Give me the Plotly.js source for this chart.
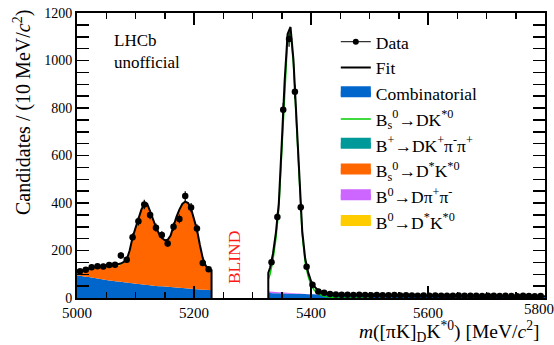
<!DOCTYPE html>
<html><head><meta charset="utf-8">
<script src="https://cdn.plot.ly/plotly-3.0.1.min.js"></script>
<style>html,body{margin:0;padding:0;background:#fff}</style>
</head><body><div id="chart" style="width:554px;height:345px"></div>
<script>
// ---------- data ----------
// measured candidates (10 MeV bins)
const dataLeftX = [5005,5015,5025,5035,5045,5055,5065,5075,5085,5095,5105,5115,5125,5135,5145,5155,5165,5175,5185,5195,5205,5215,5225];
const dataLeftY = [113,119,129,134,133,139,140,179,161,256,323,394,350,296,265,230,300,333,429,381,293,147,121];
const dataRightX = [5332.5,5342.5,5352.5,5362.5,5372.5,5382.5,5392.5,5402.5,5412.5,5422.5,5432.5,5442.5,5452.5,5462.5,5472.5,5482.5,5492.5,5502.5,5512.5,5522.5,5532.5,5542.5,5552.5,5562.5,5572.5,5582.5,5592.5,5602.5,5612.5,5622.5,5632.5,5642.5,5652.5,5662.5,5672.5,5682.5,5692.5,5702.5,5712.5,5722.5,5732.5,5742.5,5752.5,5762.5,5772.5,5782.5,5792.5];
const dataRightY = [151,341,793,1091,868,382,132,56,27,22,17,15,14,14,13,14,13,12,13,12,12,13,11,12,11,10,11,10,11,10,9,10,11,9,10,9,8,9,10,8,9,8,7,9,8,7,8];

// fit components, lower-mass window
const leftX = [5000,5005,5010,5015,5020,5025,5030,5035,5040,5045,5050,5055,5060,5065,5070,5075,5080,5085,5090,5095,5100,5105,5110,5115,5120,5125,5130,5135,5140,5145,5150,5155,5160,5165,5170,5175,5180,5185,5190,5195,5200,5205,5210,5215,5220,5225,5230];
const combLeft = [96,94,92,90,88,86,84,82,80,78,76,74,73,71,69,68,66,65,63,62,60,59,58,56,55,54,52,51,50,49,48,47,46,45,44,43,42,41,40,39,38,37,36,35,35,34,33];
const bsDstarLeft = [12,17,23,28,33,37,40,44,47,51,54,57,59,63,67,72,82,93,134,190,233,274,312,339,341,310,277,246,221,203,194,197,216,259,297,328,353,364,359,336,297,250,187,132,100,87,83];
const b0DstarLeft = [2,3,3,4,4,4,5,5,5,5,5,5,5,5,5,5,4,4,3,3,2,2,2,1,1,1,1,1,1,1,1,1,1,1,1,1,1,1,1,1,1,1,1,1,1,1,1];

// fit components, signal window
const rightX = [5327,5330,5335,5340,5345,5350,5355,5360,5365,5370,5375,5380,5385,5390,5395,5400,5405,5410,5415,5420,5425,5430,5435,5440,5445,5450,5460,5470,5480,5490,5500,5510,5520,5530,5540,5550,5560,5570,5580,5590,5600,5610,5620,5630,5640,5650,5660,5670,5680,5690,5700,5710,5720,5730,5740,5750,5760,5770,5780,5790,5800];
const combRight = [21,20.8,20.4,20,19.6,19.2,18.8,18.4,18,17.6,17.3,17,16.7,16.4,16.1,15.8,15.5,15.2,14.9,14.6,14.3,14,13.8,13.6,13.4,13.2,12.8,12.4,12.1,11.8,11.5,11.3,11.1,10.9,10.7,10.5,10.3,10.1,9.9,9.7,9.5,9.4,9.2,9.1,9.0,8.8,8.7,8.5,8.4,8.3,8.1,8.0,7.9,7.8,7.7,7.6,7.5,7.4,7.3,7.2,7.1];
const purpleX = [5327,5330,5335,5340,5345,5350,5355,5360,5365,5370,5375,5380,5385,5390,5395,5400,5405,5410];
const purpleRight = [7,6.5,6,5.5,5,4.5,4,3.5,3,2.5,2,1.5,1.2,0.9,0.6,0.4,0.2,0.1];
const sigX = [5327,5330,5335,5340,5345,5350,5355,5360,5365,5370,5375,5380,5385,5390,5395,5400,5405,5410,5415,5420,5425,5430,5435,5440,5445,5450,5460,5470,5480,5490,5500];
const sigRight = [78,100,160,250,375,628,893,1090,1120,983,737,471,265,150,92,55,35,22,14,9,6,4,3,2,1.5,1,0.5,0.3,0.2,0.1,0];

// axis ticks
const xTickVals = [5000,5200,5400,5600];
const xTickText = ['5000','5200','5400','5600'];
const xEdgeTickVals = [5800];
const xEdgeTickText = ['5800'];

const legendNames = {
  data: 'Data',
  fit: 'Fit',
  comb: 'Combinatorial',
  sig: 'B<sub>s</sub><sup>0</sup>→DK<sup>*0</sup>',
  bplus: 'B<sup>+</sup>→DK<sup>+</sup>π<sup>-</sup>π<sup>+</sup>',
  bsdst: 'B<sub>s</sub><sup>0</sup>→D<sup>*</sup>K<sup>*0</sup>',
  b0dpp: 'B<sup>0</sup>→Dπ<sup>+</sup>π<sup>-</sup>',
  b0dst: 'B<sup>0</sup>→D<sup>*</sup>K<sup>*0</sup>'
};

// ---------- styles ----------
const BLUE = '#0066cc', TEAL = '#009999', ORANGE = '#ff6600', PURPLE = '#cc66ff', YELLOW = '#ffcc00', GREEN = '#00cc00';
const FONT = 'Liberation Serif, Times New Roman, serif';

// ---------- derived totals ----------
const fitLeft = leftX.map((_, i) => combLeft[i] + bsDstarLeft[i] + b0DstarLeft[i]);
const fitRight = rightX.map((_, i) => combRight[i] + (purpleRight[i] || 0) + (sigRight[i] || 0));

const traces = [];
const area = (x, y, grp, col) => ({x, y, type: 'scatter', mode: 'none', stackgroup: grp, fillcolor: col, showlegend: false, hoverinfo: 'skip'});
traces.push(area(leftX, combLeft, 'L', BLUE));
traces.push(area(leftX, bsDstarLeft, 'L', ORANGE));
traces.push(area(leftX, b0DstarLeft, 'L', YELLOW));
traces.push(area(rightX, combRight, 'R', BLUE));
traces.push(area(purpleX, purpleRight, 'R', PURPLE));

traces.push({x: sigX, y: sigRight, type: 'scatter', mode: 'lines', line: {color: GREEN, width: 1.5}, showlegend: false});
traces.push({x: leftX.concat([leftX[leftX.length - 1]]), y: fitLeft.concat([0]), type: 'scatter', mode: 'lines', line: {color: 'black', width: 2}, showlegend: false});
traces.push({x: [rightX[0]].concat(rightX), y: [0].concat(fitRight), type: 'scatter', mode: 'lines', line: {color: 'black', width: 2}, showlegend: false});

traces.push({x: dataLeftX.concat(dataRightX), y: dataLeftY.concat(dataRightY), type: 'scatter', mode: 'markers',
  marker: {color: 'black', size: 6.5}, error_y: {type: 'sqrt', visible: true, color: 'black', thickness: 1.2, width: 0}, showlegend: false});

// helper axis carrying only the last (edge) tick label
traces.push({x: [null], y: [null], xaxis: 'x2', type: 'scatter', mode: 'markers', showlegend: false, hoverinfo: 'skip'});

// legend entries
const lg = (name, extra) => Object.assign({x: [null], y: [null], type: 'scatter', name: name, showlegend: true}, extra);
traces.push(lg(legendNames.data, {mode: 'lines+markers', line: {color: 'black', width: 1}, marker: {color: 'black', size: 6}}));
traces.push(lg(legendNames.fit, {mode: 'lines', line: {color: 'black', width: 2}}));
traces.push(lg(legendNames.comb, {mode: 'lines', line: {color: BLUE, width: 10}, fill: 'toself', fillcolor: BLUE}));
traces.push(lg(legendNames.sig, {mode: 'lines', line: {color: GREEN, width: 1.5}}));
traces.push(lg(legendNames.bplus, {mode: 'lines', line: {color: TEAL, width: 10}, fill: 'toself', fillcolor: TEAL}));
traces.push(lg(legendNames.bsdst, {mode: 'lines', line: {color: ORANGE, width: 10}, fill: 'toself', fillcolor: ORANGE}));
traces.push(lg(legendNames.b0dpp, {mode: 'lines', line: {color: PURPLE, width: 10}, fill: 'toself', fillcolor: PURPLE}));
traces.push(lg(legendNames.b0dst, {mode: 'lines', line: {color: YELLOW, width: 10}, fill: 'toself', fillcolor: YELLOW}));

const axisCommon = {
  ticks: 'inside', tickcolor: 'black', tickwidth: 1.5, showline: true, linewidth: 2, linecolor: 'black',
  mirror: 'allticks', showgrid: false, zeroline: false,
  minor: {ticks: 'inside', ticklen: 6, tickwidth: 1.5, tickcolor: 'black', showgrid: false}
};

const layout = {
  width: 554, height: 345,
  margin: {l: 77, r: 9, t: 13, b: 47},
  paper_bgcolor: 'white', plot_bgcolor: 'white',
  font: {family: FONT, color: 'black'},
  showlegend: true,
  xaxis: Object.assign({}, axisCommon, {range: [5000, 5800], tickmode: 'array', tickvals: xTickVals, ticktext: xTickText, ticklen: 12,
    tickfont: {size: 15, family: FONT}, minor: Object.assign({}, axisCommon.minor, {tickmode: 'linear', tick0: 5000, dtick: 50})}),
  xaxis2: {overlaying: 'x', side: 'bottom', range: [5000, 5800], tickmode: 'array', tickvals: xEdgeTickVals, ticktext: xEdgeTickText,
    ticks: '', showline: false, showgrid: false, zeroline: false, ticklabelshift: -6, ticklabeloverflow: 'allow',
    tickfont: {size: 15, family: FONT}},
  yaxis: Object.assign({}, axisCommon, {range: [0, 1200], tick0: 0, dtick: 200, ticklen: 12,
    tickfont: {size: 14, family: FONT}, minor: Object.assign({}, axisCommon.minor, {dtick: 50})}),
  legend: {x: 0.553, y: 0.962, xanchor: 'left', yanchor: 'top', traceorder: 'normal', font: {size: 17.5, family: FONT}, bgcolor: 'rgba(0,0,0,0)', tracegroupgap: 0},
  annotations: [
    {text: '<i>m</i>([πK]<sub>D</sub>K<sup>*0</sup>) [MeV/<i>c</i><sup>2</sup>]', xref: 'paper', yref: 'paper', x: 0.9915, y: -0.117,
     xanchor: 'right', yanchor: 'middle', showarrow: false, font: {size: 19.5, family: FONT}},
    {text: 'Candidates / (10 MeV/<i>c</i><sup>2</sup>)', xref: 'paper', yref: 'paper', x: -0.1165, y: 1.0175, textangle: -90,
     xanchor: 'center', yanchor: 'top', showarrow: false, font: {size: 20, family: FONT}},
    {text: 'LHCb', xref: 'paper', yref: 'paper', x: 0.0748, y: 0.905, xanchor: 'left', yanchor: 'middle', showarrow: false, font: {size: 17, family: FONT}},
    {text: 'unofficial', xref: 'paper', yref: 'paper', x: 0.0748, y: 0.828, xanchor: 'left', yanchor: 'middle', showarrow: false, font: {size: 17, family: FONT}},
    {text: 'BLIND', xref: 'paper', yref: 'paper', x: 0.3355, y: 0.14, textangle: -90, xanchor: 'center', yanchor: 'middle', showarrow: false, font: {size: 17.5, family: FONT, color: '#ff1a1a'}}
  ]
};

Plotly.newPlot('chart', traces, layout, {staticPlot: true, displayModeBar: false});
</script>
</body></html>
